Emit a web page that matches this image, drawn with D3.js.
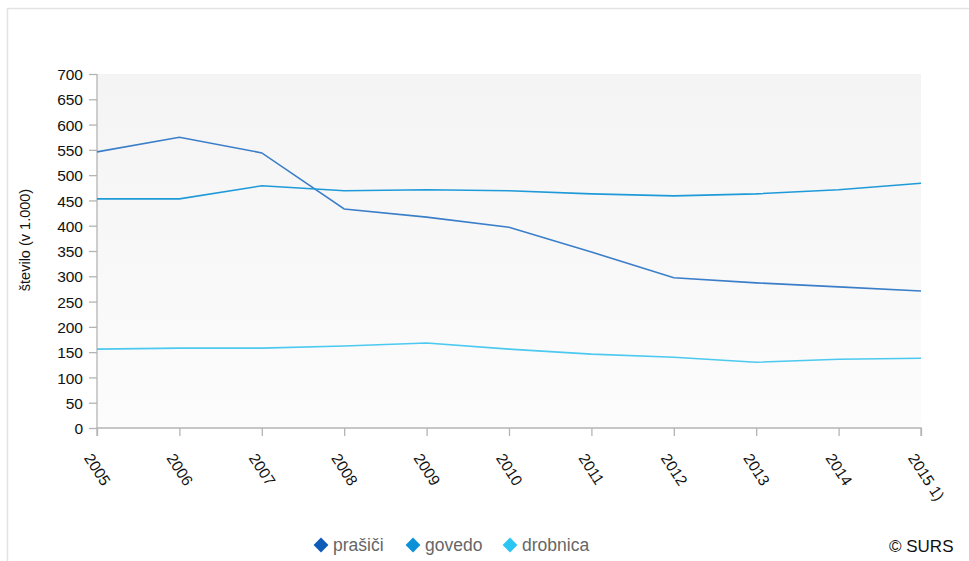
<!DOCTYPE html>
<html><head><meta charset="utf-8">
<script src="https://cdn.jsdelivr.net/npm/d3@7"></script>
<style>body{margin:0;background:#fff;font-family:"Liberation Sans",Arial,sans-serif;}</style>
</head><body><svg id="c" width="969" height="561"></svg>
<script>
const years = ["2005","2006","2007","2008","2009","2010","2011","2012","2013","2014","2015 1)"];
const prasici = [546,575,544,433,417,397,348,297,287,279,271];
const govedo = [453,453,479,469,471,469,463,459,463,471,484];
const drobnica = [156,158,158,162,168,156,146,140,130,136,138];
const seriesNames = ["prašiči","govedo","drobnica"];
const lineColors = ["#3a7ec9","#1f9ad9","#4cc9f0"];
const legendColors = ["#0f5cb8","#0c90d8","#2cc5f2"];
const yTicks = d3.range(0,701,50);

const svg = d3.select("#c");
const m = {l:97, r:921, t:74, b:428};
svg.append("path").attr("d","M7.5,561 V8.5 H969").attr("fill","none").attr("stroke","#e2e2e2").attr("stroke-width",1.5);

const defs = svg.append("defs");
const g = defs.append("linearGradient").attr("id","bg").attr("x1",0).attr("y1",0).attr("x2",0).attr("y2",1);
g.append("stop").attr("offset","0").attr("stop-color","#f4f4f4");
g.append("stop").attr("offset","1").attr("stop-color","#fcfcfc");

const x = d3.scalePoint().domain(years).range([m.l,m.r]);
const y = d3.scaleLinear().domain([0,700]).range([m.b,m.t]);

svg.append("rect").attr("x",m.l).attr("y",m.t).attr("width",m.r-m.l).attr("height",m.b-m.t).attr("fill","url(#bg)");

const yAx = svg.append("g").attr("transform",`translate(${m.l},0)`)
  .call(d3.axisLeft(y).tickValues(yTicks).tickSize(8).tickPadding(6));
const xAx = svg.append("g").attr("transform",`translate(0,${m.b})`)
  .call(d3.axisBottom(x).tickSize(8));
[yAx,xAx].forEach(a=>{
  a.selectAll("path,line").attr("stroke","#b4b4b4").attr("stroke-width",1.3);
  a.selectAll("text").attr("fill","#111").style("font-size","15.5px").style("font-family","'Liberation Sans',Arial,sans-serif");
});
yAx.selectAll("text").attr("dy","0.36em");
xAx.select(".domain").attr("d",`M${m.l},8V0H${m.r}V8`);
yAx.select(".domain").attr("d",`M0,${m.b}V${m.t}`);
xAx.selectAll("text").attr("text-anchor","start").attr("dy",null).attr("y",0)
  .attr("transform",`translate(-14,30) rotate(57)`);

svg.append("text").attr("transform","translate(30,240) rotate(-90)").attr("text-anchor","middle")
  .style("font-size","14.5px").attr("fill","#111").text("število (v 1.000)");

const data = [prasici,govedo,drobnica];
const line = d3.line().x((d,i)=>x(years[i])).y(d=>y(d));
data.forEach((s,k)=>{
  svg.append("path").attr("d",line(s)).attr("fill","none").attr("stroke",lineColors[k]).attr("stroke-width",1.6);
});

const lx = [321,413,510];
seriesNames.forEach((n,k)=>{
  svg.append("path").attr("d",d3.symbol(d3.symbolDiamond2,140)()).attr("transform",`translate(${lx[k]},545)`).attr("fill",legendColors[k]);
  svg.append("text").attr("x",lx[k]+12).attr("y",551).style("font-size","17.5px").attr("fill","#666").text(n);
});
svg.append("text").attr("x",889).attr("y",552).style("font-size","17px").attr("fill","#111").text("© SURS");
</script></body></html>
